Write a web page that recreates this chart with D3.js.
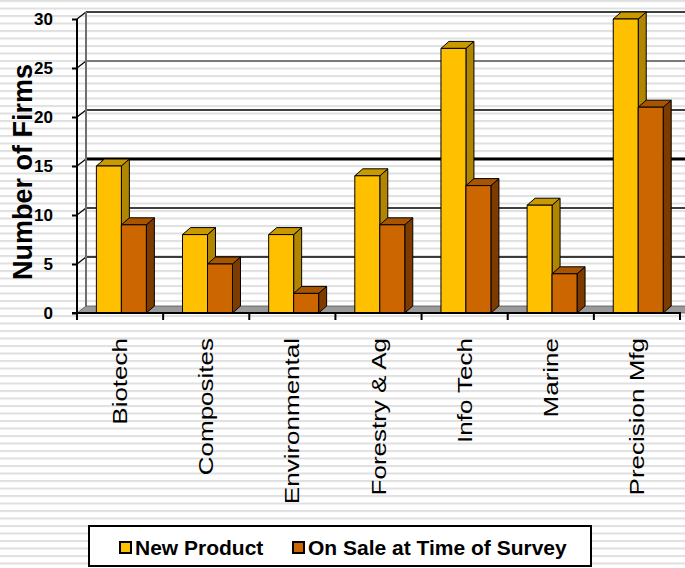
<!DOCTYPE html>
<html>
<head>
<meta charset="utf-8">
<script src="https://cdn.jsdelivr.net/npm/d3@7"></script>
<style>
  html, body { margin: 0; padding: 0; background: #fff; }
  svg { display: block; }
</style>
</head>
<body>
<svg id="chart" width="685" height="568"></svg>
<script>
// Survey results: firms per sector
const categories = ["Biotech", "Composites", "Environmental", "Forestry & Ag", "Info Tech", "Marine", "Precision Mfg"];
const newProduct = [15, 8, 8, 14, 27, 11, 30];
const onSale = [9, 5, 2, 9, 13, 4, 21];
const seriesNames = ["New Product", "On Sale at Time of Survey"];
const yTicks = [0, 5, 10, 15, 20, 25, 30];

const svg = d3.select("#chart");
const W = 685, H = 568;

// striped backdrop
const defs = svg.append("defs");
const pat = defs.append("pattern").attr("id", "stripes")
  .attr("patternUnits", "userSpaceOnUse").attr("width", 10).attr("height", 7.5);
pat.append("rect").attr("width", 10).attr("height", 7.5).attr("fill", "#ffffff");
pat.append("rect").attr("y", 0).attr("width", 10).attr("height", 2).attr("fill", "#e0e0e0");
svg.append("rect").attr("width", W).attr("height", H).attr("fill", "url(#stripes)");

// plot geometry
const x0 = 77, x1 = 680;
const depthX = 9, depthY = 7;      // wall depth
const barDX = 8, barDY = 7;        // bar depth

const y = d3.scaleLinear().domain([0, 30]).range([313, 19]);
const xBand = d3.scaleBand().domain(categories).range([x0, x1]).paddingInner(0).paddingOuter(0);
const bw = xBand.bandwidth();
const barW = bw * 0.29;
const barOff = bw * 0.225;

const series = [
  { name: seriesNames[0], values: newProduct, front: "#FFC000", side: "#B08600", top: "#C99A00" },
  { name: seriesNames[1], values: onSale, front: "#CC6600", side: "#7E3B00", top: "#A85400" }
];

// back wall gridlines
const g = svg.append("g");
yTicks.filter(v => v > 0).forEach(v => {
  const yy = y(v) - depthY;
  let stroke = "#000", sw = 1.6;
  if (v === 25) { stroke = "#7a7a7a"; sw = 2.2; }
  if (v === 15) { sw = 3; }
  g.append("line").attr("x1", x0 + depthX).attr("x2", W + 5)
    .attr("y1", yy).attr("y2", yy).attr("stroke", stroke).attr("stroke-width", sw);
  // connector across the side wall
  g.append("line").attr("x1", x0).attr("y1", y(v)).attr("x2", x0 + depthX).attr("y2", yy)
    .attr("stroke", "#000").attr("stroke-width", 1.2);
});
// back-left wall edge
g.append("line").attr("x1", x0 + depthX).attr("x2", x0 + depthX)
  .attr("y1", y(30) - depthY).attr("y2", y(0) - depthY)
  .attr("stroke", "#6e6e6e").attr("stroke-width", 2);

// floor
g.append("polygon")
  .attr("points", [[x0, y(0)], [x0 + depthX, y(0) - depthY], [x1 + depthX + 5, y(0) - depthY], [x1 + 5, y(0)]].map(p => p.join(",")).join(" "))
  .attr("fill", "#9a9a9a").attr("stroke", "#555").attr("stroke-width", 0.8);

// bars
categories.forEach((c, i) => {
  series.forEach((s, k) => {
    const v = s.values[i];
    const bx = xBand(c) + barOff + k * barW;
    const yt = y(v), yb = y(0);
    const bg = g.append("g").attr("stroke", "#000").attr("stroke-width", 1).attr("stroke-linejoin", "round");
    bg.append("polygon")
      .attr("points", [[bx + barW, yt], [bx + barW + barDX, yt - barDY], [bx + barW + barDX, yb - barDY], [bx + barW, yb]].map(p => p.join(",")).join(" "))
      .attr("fill", s.side);
    bg.append("polygon")
      .attr("points", [[bx, yt], [bx + barDX, yt - barDY], [bx + barW + barDX, yt - barDY], [bx + barW, yt]].map(p => p.join(",")).join(" "))
      .attr("fill", s.top);
    bg.append("rect").attr("x", bx).attr("y", yt).attr("width", barW).attr("height", yb - yt)
      .attr("fill", s.front);
  });
});

// front axes
g.append("line").attr("x1", x0).attr("x2", x0).attr("y1", y(30)).attr("y2", y(0) + 7)
  .attr("stroke", "#000").attr("stroke-width", 2);
g.append("line").attr("x1", x0 - 5).attr("x2", x1 + 1).attr("y1", y(0)).attr("y2", y(0))
  .attr("stroke", "#000").attr("stroke-width", 2);

// y ticks and labels
const yAxis = d3.axisLeft(y).tickValues(yTicks).tickSize(5).tickPadding(19).tickFormat(d3.format("d"));
const ya = svg.append("g").attr("transform", `translate(${x0},0)`).call(yAxis);
ya.select(".domain").remove();
ya.selectAll(".tick line").attr("stroke", "#000").attr("stroke-width", 2);
ya.selectAll(".tick text")
  .attr("font-family", "Liberation Sans, Arial, sans-serif")
  .attr("font-size", 17).attr("font-weight", "bold").attr("fill", "#000");

// x ticks at category boundaries
const bounds = categories.map(c => xBand(c)).concat([x1]);
g.selectAll(".xt").data(bounds).enter().append("line")
  .attr("x1", d => d).attr("x2", d => d).attr("y1", y(0)).attr("y2", y(0) + 7)
  .attr("stroke", "#000").attr("stroke-width", 2);

// category labels
svg.selectAll(".cat").data(categories).enter().append("text")
  .attr("transform", d => `translate(${xBand(d) + bw / 2 + 7},338) rotate(-90) scale(1.3,1)`)
  .attr("text-anchor", "end")
  .attr("font-family", "Liberation Sans, Arial, sans-serif")
  .attr("font-size", 20).attr("fill", "#000")
  .text(d => d);

// y title
svg.append("text")
  .attr("transform", "translate(32,172) rotate(-90)")
  .attr("text-anchor", "middle")
  .attr("font-family", "Liberation Sans, Arial, sans-serif")
  .attr("font-size", 27).attr("font-weight", "bold").attr("fill", "#000")
  .text("Number of Firms");

// legend
const lg = svg.append("g");
lg.append("rect").attr("x", 89).attr("y", 526).attr("width", 502).attr("height", 40)
  .attr("fill", "#fff").attr("stroke", "#000").attr("stroke-width", 2);
const legendX = [119, 292];
series.forEach((s, k) => {
  lg.append("rect").attr("x", legendX[k] + 1).attr("y", 542).attr("width", 11).attr("height", 11)
    .attr("fill", s.front).attr("stroke", "#000").attr("stroke-width", 2);
  lg.append("text").attr("x", legendX[k] + 16).attr("y", 555)
    .attr("font-family", "Liberation Sans, Arial, sans-serif")
    .attr("font-size", 21).attr("font-weight", "bold").attr("fill", "#000")
    .text(s.name);
});
</script>
</body>
</html>
